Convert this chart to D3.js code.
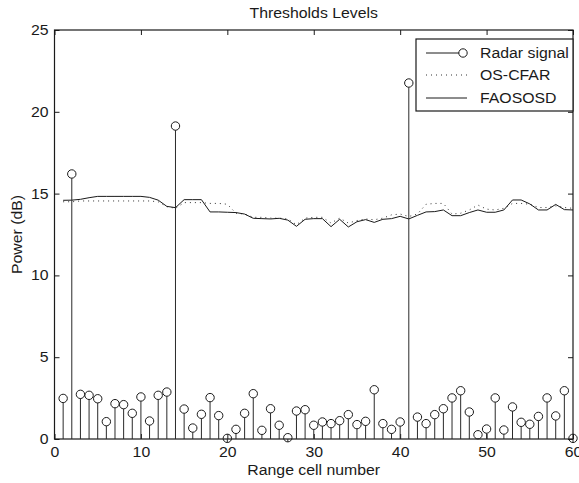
<!DOCTYPE html>
<html><head><meta charset="utf-8">
<script src="https://cdn.jsdelivr.net/npm/d3@7"></script>
<style>body{margin:0;background:#fff}svg{display:block}text{font-family:"Liberation Sans",Arial,sans-serif}</style>
</head><body><svg id="c" width="579" height="483"></svg>
<script>
const cells = d3.range(1, 61);
const radarSignal = [2.48,16.2,2.73,2.67,2.46,1.06,2.16,2.10,1.57,2.57,1.10,2.67,2.87,19.13,1.83,0.67,1.51,2.53,1.43,0.04,
  0.59,1.57,2.77,0.53,1.85,0.84,0.08,1.71,1.79,0.84,1.04,0.94,1.12,1.49,0.88,1.08,3.01,0.94,0.59,1.04,
  21.76,1.34,0.94,1.49,1.85,2.51,2.95,1.65,0.26,0.61,2.51,0.55,1.96,1.02,0.90,1.38,2.51,1.41,2.95,0.04];
const osCfar = [14.5,14.5,14.55,14.55,14.55,14.55,14.55,14.55,14.55,14.55,14.55,14.5,14.2,14.1,14.45,14.45,14.45,14.4,14.4,14.35,
  13.8,13.75,13.55,13.55,13.5,13.5,13.45,13.1,13.5,13.55,13.55,13.2,13.5,13.2,13.35,13.45,13.4,13.5,13.7,13.75,
  13.6,13.75,14.35,14.4,14.4,13.75,13.8,14.0,14.3,14.05,14.0,14.1,14.4,14.4,14.35,14.15,14.15,14.25,14.15,14.1];
const faososd = [14.59,14.6,14.65,14.75,14.83,14.83,14.83,14.83,14.83,14.83,14.77,14.6,14.22,14.14,14.63,14.63,14.63,13.88,13.88,13.86,
  13.84,13.75,13.49,13.47,13.45,13.49,13.38,13.0,13.43,13.47,13.47,12.98,13.43,12.96,13.28,13.41,13.24,13.43,13.47,13.61,
  13.45,13.67,13.88,13.9,14.0,13.65,13.65,13.84,14.0,13.86,13.86,14.0,14.61,14.61,14.37,14.0,14.0,14.34,14.02,14.0];
const xTicks = [0,10,20,30,40,50,60];
const yTicks = [0,5,10,15,20,25];
const legendLabels = ["Radar signal","OS-CFAR","FAOSOSD"];

const svg = d3.select("#c");
const L = 54.5, R = 573, T = 30, B = 439;
const x = d3.scaleLinear().domain([0,60]).range([L,R]);
const y = d3.scaleLinear().domain([0,25]).range([B,T]);
const ink = "#1a1a1a";
const STRETCH = 1.13;
function stretch(sel){
  sel.each(function(){
    const w = this.getComputedTextLength();
    if (w > 0) d3.select(this).attr("textLength", w*STRETCH).attr("lengthAdjust","spacingAndGlyphs");
  });
}

// axes with inward ticks
const gx = svg.append("g").attr("transform",`translate(0,${B})`)
  .call(d3.axisBottom(x).tickValues(xTicks).tickSizeInner(-5).tickSizeOuter(0).tickPadding(8));
const gxT = svg.append("g").attr("transform",`translate(0,${T})`)
  .call(d3.axisTop(x).tickValues(xTicks).tickSizeInner(-5).tickSizeOuter(0).tickFormat(""));
const gy = svg.append("g").attr("transform",`translate(${L},0)`)
  .call(d3.axisLeft(y).tickValues(yTicks).tickSizeInner(-5).tickSizeOuter(0).tickPadding(6));
const gyR = svg.append("g").attr("transform",`translate(${R},0)`)
  .call(d3.axisRight(y).tickValues(yTicks).tickSizeInner(-5).tickSizeOuter(0).tickFormat(""));
[gx,gxT,gy,gyR].forEach(g=>{
  g.select(".domain").remove();
  g.selectAll("line").attr("stroke",ink);
  g.selectAll("text").attr("fill",ink).style("font-size","14px").style("font-family","'Liberation Sans',Arial,sans-serif");
});
svg.append("rect").attr("x",L).attr("y",T).attr("width",R-L).attr("height",B-T)
  .attr("fill","none").attr("stroke",ink).attr("stroke-width",1.2);

// threshold lines
const line = d3.line().x((d,i)=>x(cells[i])).y(d=>y(d));
svg.append("path").datum(osCfar).attr("d",line).attr("fill","none")
  .attr("stroke","#333").attr("stroke-width",1).attr("stroke-dasharray","1,4");
svg.append("path").datum(faososd).attr("d",line).attr("fill","none")
  .attr("stroke",ink).attr("stroke-width",1);

// stems
const st = svg.append("g");
st.selectAll("line").data(radarSignal).join("line")
  .attr("x1",(d,i)=>x(cells[i])).attr("x2",(d,i)=>x(cells[i]))
  .attr("y1",y(0)).attr("y2",d=>y(d)+4.2)
  .attr("stroke","#2a2a2a").attr("stroke-width",1);
st.selectAll("circle").data(radarSignal).join("circle")
  .attr("cx",(d,i)=>x(cells[i])).attr("cy",d=>y(d)).attr("r",4.2)
  .attr("fill","none").attr("stroke",ink).attr("stroke-width",1);

// legend
const lg = svg.append("g");
lg.append("rect").attr("x",416).attr("y",39).attr("width",R-416).attr("height",72)
  .attr("fill","#fff").attr("stroke",ink).attr("stroke-width",1.2);
const ly = [53,75,98];
lg.append("line").attr("x1",426).attr("x2",459).attr("y1",ly[0]).attr("y2",ly[0]).attr("stroke",ink);
lg.append("circle").attr("cx",463).attr("cy",ly[0]).attr("r",4.2).attr("fill","none").attr("stroke",ink);
lg.append("line").attr("x1",426).attr("x2",467).attr("y1",ly[1]).attr("y2",ly[1]).attr("stroke","#333").attr("stroke-dasharray","1,4");
lg.append("line").attr("x1",426).attr("x2",467).attr("y1",ly[2]).attr("y2",ly[2]).attr("stroke",ink);
lg.selectAll("text").data(legendLabels).join("text")
  .attr("x",480).attr("y",(d,i)=>ly[i]+5).text(d=>d)
  .attr("fill",ink).style("font-size","14px");

// titles
svg.append("text").attr("x",(L+R)/2).attr("y",18).attr("text-anchor","middle")
  .style("font-size","14px").attr("fill",ink).text("Thresholds Levels");
svg.append("text").attr("x",(L+R)/2).attr("y",475).attr("text-anchor","middle")
  .style("font-size","14px").attr("fill",ink).text("Range cell number");
svg.append("text").attr("transform",`translate(22,${(T+B)/2}) rotate(-90)`).attr("text-anchor","middle")
  .style("font-size","14px").attr("fill",ink).text("Power (dB)");

stretch(svg.selectAll("text"));
</script></body></html>
